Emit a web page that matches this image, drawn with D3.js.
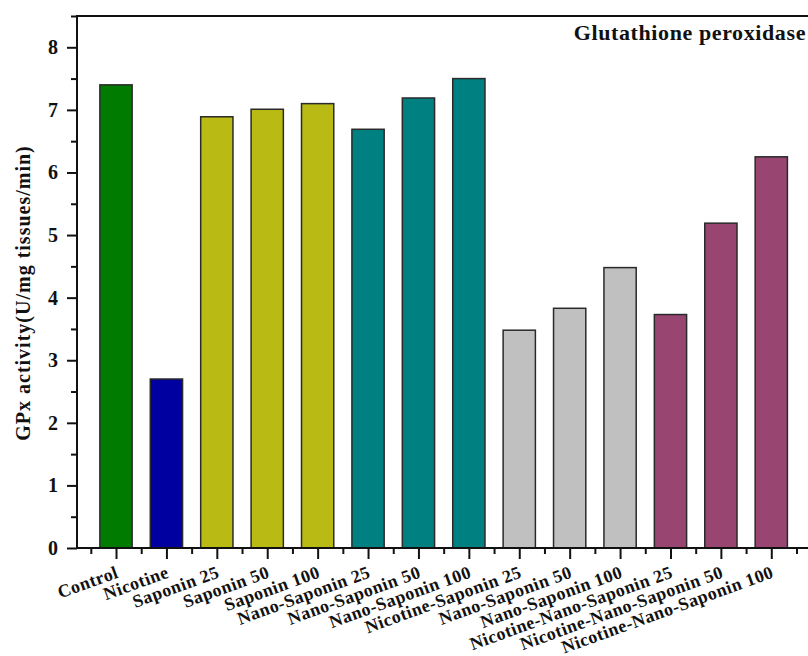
<!DOCTYPE html>
<html>
<head>
<meta charset="utf-8">
<script src="https://cdn.jsdelivr.net/npm/d3@7"></script>
<style>
  html, body { margin: 0; padding: 0; background: #fff; }
  svg { display: block; }
  text { font-family: "Liberation Serif", "Times New Roman", serif; font-weight: bold; fill: #111; }
</style>
</head>
<body>
<svg id="chart" width="808" height="656"></svg>
<script>
// GPx activity per treatment group
const categories = [
  "Control", "Nicotine", "Saponin 25", "Saponin 50", "Saponin 100",
  "Nano-Saponin 25", "Nano-Saponin 50", "Nano-Saponin 100",
  "Nicotine-Saponin 25", "Nano-Saponin 50", "Nano-Saponin 100",
  "Nicotine-Nano-Saponin 25", "Nicotine-Nano-Saponin 50", "Nicotine-Nano-Saponin 100"
];
const values = [7.4, 2.7, 6.89, 7.01, 7.1, 6.69, 7.19, 7.5, 3.48, 3.83, 4.48, 3.73, 5.19, 6.25];
const barColors = [
  "#007b00", "#0000a0", "#baba14", "#baba14", "#baba14",
  "#008080", "#008080", "#008080",
  "#c0c0c0", "#c0c0c0", "#c0c0c0",
  "#984572", "#984572", "#984572"
];
const yTicks = [0, 1, 2, 3, 4, 5, 6, 7, 8];
const yMinorTicks = [0.5, 1.5, 2.5, 3.5, 4.5, 5.5, 6.5, 7.5, 8.5];
const titleText = "Glutathione peroxidase";
const yLabel = "GPx activity(U/mg tissues/min)";

const svg = d3.select("#chart");
const plotLeft = 77, plotRight = 860, plotTop = 16, plotBottom = 548;

// category index (1-based) on a linear scale
const x = d3.scaleLinear().domain([0.226, 15.76]).range([plotLeft, plotRight]);
const y = d3.scaleLinear().domain([0, 8.5]).range([plotBottom, plotTop]);
const step = x(2) - x(1);
const barW = step * 0.64;

// bars
svg.append("g").selectAll("rect")
  .data(values)
  .join("rect")
  .attr("x", (d, i) => x(i + 1) - barW / 2)
  .attr("y", d => y(d))
  .attr("width", barW)
  .attr("height", d => y(0) - y(d))
  .attr("fill", (d, i) => barColors[i])
  .attr("stroke", "#2a2a2a")
  .attr("stroke-width", 1.5);

// frame
svg.append("rect")
  .attr("x", plotLeft).attr("y", plotTop)
  .attr("width", plotRight - plotLeft).attr("height", plotBottom - plotTop)
  .attr("fill", "none").attr("stroke", "#111").attr("stroke-width", 2);

// y axis, major + minor ticks
const yAxis = svg.append("g").attr("transform", `translate(${plotLeft},0)`)
  .call(d3.axisLeft(y).tickValues(yTicks).tickFormat(d3.format("d")).tickSize(10).tickPadding(9));
svg.append("g").attr("transform", `translate(${plotLeft},0)`)
  .call(d3.axisLeft(y).tickValues(yMinorTicks).tickFormat("").tickSize(6));

// x axis, major ticks at categories, minor in between
const catIdx = categories.map((c, i) => i + 1);
const xAxis = svg.append("g").attr("transform", `translate(0,${plotBottom})`)
  .call(d3.axisBottom(x).tickValues(catIdx).tickFormat(i => categories[i - 1]).tickSize(11));
svg.append("g").attr("transform", `translate(0,${plotBottom})`)
  .call(d3.axisBottom(x).tickValues(d3.range(0.5, 15, 1)).tickFormat("").tickSize(6));

svg.selectAll(".domain").remove();
svg.selectAll(".tick line").attr("stroke", "#111").attr("stroke-width", 2);

yAxis.selectAll("text").style("font-size", "20px");

xAxis.selectAll("text")
  .style("font-size", "18px")
  .style("letter-spacing", "0.5px")
  .attr("text-anchor", "end")
  .attr("dy", null)
  .attr("y", 0)
  .attr("transform", "translate(3,29) rotate(-20)");

// title
svg.append("text")
  .attr("x", 806).attr("y", 40)
  .attr("text-anchor", "end")
  .style("font-size", "22px")
  .style("letter-spacing", "0.6px")
  .text(titleText);

// y label
svg.append("text")
  .attr("transform", `translate(30,${(plotTop + plotBottom) / 2 + 11}) rotate(-90)`)
  .attr("text-anchor", "middle")
  .style("font-size", "20px")
  .style("letter-spacing", "1px")
  .text(yLabel);
</script>
</body>
</html>
